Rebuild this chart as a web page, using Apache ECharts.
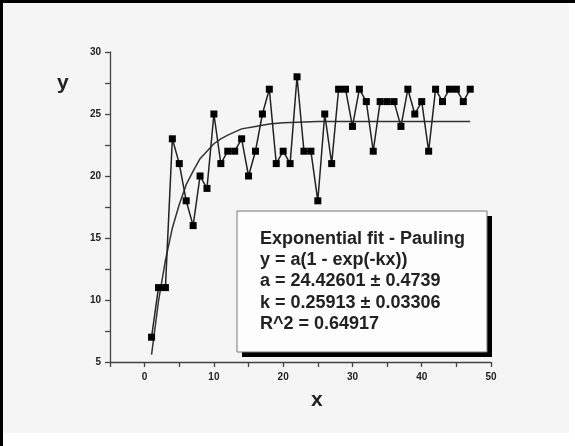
<!DOCTYPE html>
<html>
<head>
<meta charset="utf-8">
<script src="https://cdn.jsdelivr.net/npm/echarts@6/dist/echarts.min.js"></script>
<style>
  html, body { margin: 0; padding: 0; background: #fff; }
  #chart { width: 575px; height: 446px; }
</style>
</head>
<body>
<div id="chart"></div>
<script>
// measured points (x = 1..47)
const xValues = [1, 2, 3, 4, 5, 6, 7, 8, 9, 10, 11, 12, 13, 14, 15, 16, 17, 18, 19, 20, 21, 22, 23, 24,
  25, 26, 27, 28, 29, 30, 31, 32, 33, 34, 35, 36, 37, 38, 39, 40, 41, 42, 43, 44, 45, 46, 47]
const yValues = [7, 11, 11, 23, 21, 18, 16, 20, 19, 25, 21, 22, 22, 23, 20, 22, 25, 27, 21, 22, 21, 28, 22, 22,
  18, 25, 21, 27, 27, 24, 27, 26, 22, 26, 26, 26, 24, 27, 25, 26, 22, 27, 26, 27, 27, 26, 27]

// fitted curve
const fitX = [1, 2, 3, 4, 5, 6, 7, 8, 9, 10, 11, 12, 14, 16, 18, 20, 25, 30, 47]
const fitY = [5.6, 9.9, 13.2, 15.8, 17.7, 19.3, 20.4, 21.4, 22.0, 22.6, 23.0, 23.3, 23.8, 24.0, 24.2, 24.3, 24.4, 24.4, 24.4]

// text box lines
const boxLines = [
  'Exponential fit - Pauling',
  'y = a(1 - exp(-kx))',
  'a = 24.42601 \u00b1 0.4739',
  'k = 0.25913 \u00b1 0.03306',
  'R^2 = 0.64917'
]

const FONT = 'Liberation Sans, Arial, sans-serif'
const AXIS_COLOR = '#444'

const chart = echarts.init(document.getElementById('chart'), null, { renderer: 'canvas' })

const pairs = (xs, ys) => xs.map((x, i) => [x, ys[i]])

const axisCommon = {
  axisLine: { show: true, onZero: false, lineStyle: { color: AXIS_COLOR, width: 1.3 } },
  axisTick: { show: true, length: 5, lineStyle: { color: AXIS_COLOR, width: 1.3 } },
  splitLine: { show: false },
  axisLabel: { fontFamily: FONT, fontWeight: 'bold', fontSize: 10, color: '#222' }
}

const option = {
  animation: false,
  backgroundColor: 'transparent',
  grid: { left: 110, right: 84, top: 52, bottom: 84, containLabel: false },
  xAxis: {
    type: 'value',
    min: -5,
    max: 50,
    interval: 5,
    ...axisCommon,
    axisLabel: {
      ...axisCommon.axisLabel,
      margin: 10,
      formatter: (v) => (v % 10 === 0 ? String(v) : '')
    }
  },
  yAxis: {
    type: 'value',
    min: 5,
    max: 30,
    interval: 2.5,
    ...axisCommon,
    axisLabel: {
      ...axisCommon.axisLabel,
      margin: 9,
      formatter: (v) => (v % 5 === 0 ? String(v) : '')
    }
  },
  graphic: [
    // frame and panel
    { type: 'rect', z: -10, shape: { x: 0, y: 0, width: 575, height: 446 }, style: { fill: '#fff' } },
    { type: 'rect', z: -9, shape: { x: 3, y: 3, width: 566, height: 430 }, style: { fill: '#f5f5f5' } },
    { type: 'rect', z: -8, shape: { x: 0, y: 0, width: 575, height: 3 }, style: { fill: '#000' } },
    { type: 'rect', z: -8, shape: { x: 0, y: 0, width: 3, height: 446 }, style: { fill: '#000' } },
    // axis titles
    {
      type: 'text', left: 57, top: 73, z: 5,
      style: { text: 'y', font: 'bold 21px ' + FONT, fill: '#222' }
    },
    {
      type: 'text', left: 311, top: 390, z: 5,
      style: { text: 'x', font: 'bold 21px ' + FONT, fill: '#222' }
    },
    // fit result box with shadow
    { type: 'rect', z: 20, shape: { x: 242, y: 216, width: 250, height: 141 }, style: { fill: '#000' } },
    {
      type: 'rect', z: 21, shape: { x: 237, y: 211, width: 250, height: 141 },
      style: { fill: '#fdfdfd', stroke: '#777', lineWidth: 1 }
    },
    {
      type: 'text', z: 22, left: 260, top: 228,
      style: {
        text: boxLines.join('\n'),
        font: 'bold 18px ' + FONT,
        lineHeight: 21.3,
        fill: '#222'
      }
    }
  ],
  series: [
    {
      name: 'data',
      type: 'line',
      data: pairs(xValues, yValues),
      symbol: 'rect',
      symbolSize: 7,
      lineStyle: { color: '#222', width: 1.5 },
      itemStyle: { color: '#000' },
      z: 3
    },
    {
      name: 'fit',
      type: 'line',
      data: pairs(fitX, fitY),
      smooth: false,
      showSymbol: false,
      lineStyle: { color: '#333', width: 1.5 },
      z: 2
    }
  ]
}

chart.setOption(option)
</script>
</body>
</html>
